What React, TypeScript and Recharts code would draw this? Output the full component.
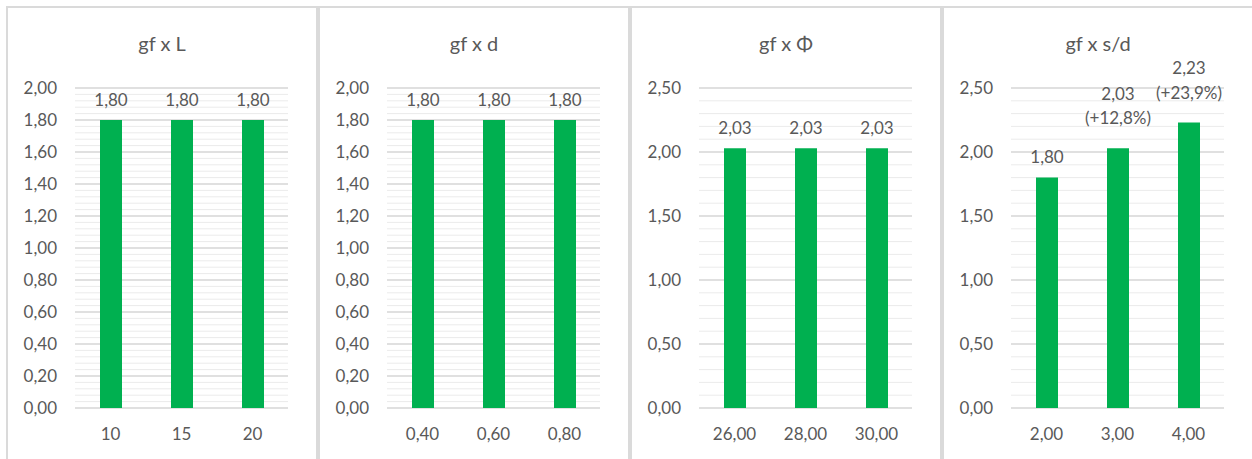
import React from "react";
import { BarChart, Bar, XAxis, YAxis, CartesianGrid, LabelList } from "recharts";

// values (comma decimals, Excel style)
const LENGTHS = ["10", "15", "20"];
const GF_BY_LENGTH = [1.8, 1.8, 1.8];

const DIAMETERS = ["0,40", "0,60", "0,80"];
const GF_BY_DIAMETER = [1.8, 1.8, 1.8];

const PHI_VALUES = ["26,00", "28,00", "30,00"];
const GF_BY_PHI = [2.03, 2.03, 2.03];

const SPACINGS = ["2,00", "3,00", "4,00"];
const GF_BY_SPACING = [1.8, 2.03, 2.23];
const SPACING_GAIN = ["", "(+12,8%)", "(+23,9%)"];

const TICKS_TO_2 = [0, 0.2, 0.4, 0.6, 0.8, 1.0, 1.2, 1.4, 1.6, 1.8, 2.0];
const TICKS_TO_25 = [0, 0.5, 1.0, 1.5, 2.0, 2.5];

const GREEN = "#00B050";
const TEXT = "#595959";
const FONT = "Lato, 'Open Sans', sans-serif";

const fmt = (v: number) => v.toFixed(2).replace(".", ",");

// minor gridlines: 5 subdivisions between major ticks
const minorTicks = (major: number[]) => {
    const out: number[] = [];
    for (let i = 0; i < major.length - 1; i++) {
        const step = (major[i + 1] - major[i]) / 5;
        for (let j = 1; j < 5; j++) out.push(Math.round((major[i] + j * step) * 1000) / 1000);
    }
    return out;
};

const BarLabel = (props: any) => {
    const { x, y, width, value } = props;
    const lines = String(value).split("\n");
    const cx = Number(x) + Number(width) / 2;
    const base = lines.length > 1 ? 30.5 : 21;
    return (
        <g>
            {lines.map((line, i) => (
                <text
                    key={i}
                    x={cx}
                    y={Number(y) - base - (lines.length - 1 - i) * 24.5}
                    textAnchor="middle"
                    dominantBaseline="central"
                    fill={TEXT}
                    fontSize={17}
                    fontFamily={FONT}
                >
                    {line}
                </text>
            ))}
        </g>
    );
};

type PanelProps = {
    title: string;
    left: number;
    categories: string[];
    values: number[];
    ticks: number[];
    extra?: string[];
};

const Panel: React.FC<PanelProps> = ({ title, left, categories, values, ticks, extra }) => {
    const data = categories.map((c, i) => ({
        cat: c,
        value: values[i],
        label: fmt(values[i]) + (extra && extra[i] ? "\n" + extra[i] : ""),
    }));
    const max = ticks[ticks.length - 1];
    const tickStyle = { fill: TEXT, fontSize: 17, fontFamily: FONT };

    return (
        <div
            style={{
                position: "absolute",
                left,
                top: 6,
                width: 312,
                height: 470,
                border: "2px solid #dadada",
                boxSizing: "border-box",
                background: "#fff",
            }}
        >
            <div
                style={{
                    position: "absolute",
                    top: 23,
                    left: 0,
                    width: "100%",
                    textAlign: "center",
                    fontSize: 20,
                    lineHeight: "24px",
                    color: TEXT,
                    fontFamily: FONT,
                }}
            >
                {title}
            </div>
            <div style={{ position: "absolute", top: 0, left: 0 }}>
                <BarChart width={308} height={456} data={data} margin={{ top: 80, right: 28, left: 0, bottom: 0 }}>
                    <CartesianGrid vertical={false} horizontalValues={minorTicks(ticks)} stroke="#ebebeb" />
                    <CartesianGrid vertical={false} horizontalValues={ticks} stroke="#d6d6d6" strokeWidth={1.5} />
                    <XAxis
                        dataKey="cat"
                        height={56}
                        axisLine={false}
                        tickLine={false}
                        tickSize={0}
                        tickMargin={20}
                        tick={tickStyle}
                        interval={0}
                    />
                    <YAxis
                        width={67}
                        domain={[0, max]}
                        ticks={ticks}
                        interval={0}
                        axisLine={false}
                        tickLine={false}
                        tickSize={0}
                        tickMargin={18}
                        tick={tickStyle}
                        tickFormatter={fmt}
                    />
                    <Bar dataKey="value" fill={GREEN} barSize={22} isAnimationActive={false}>
                        <LabelList dataKey="label" content={BarLabel} />
                    </Bar>
                </BarChart>
            </div>
        </div>
    );
};

export default function App() {
    return (
        <div
            style={{
                position: "absolute",
                left: 0,
                top: 0,
                width: 1252,
                height: 459,
                background: "#fff",
                overflow: "hidden",
                fontFamily: FONT,
            }}
        >
            <Panel title="gf x L" left={6} categories={LENGTHS} values={GF_BY_LENGTH} ticks={TICKS_TO_2} />
            <Panel title="gf x d" left={318} categories={DIAMETERS} values={GF_BY_DIAMETER} ticks={TICKS_TO_2} />
            <Panel title="gf x Φ" left={630} categories={PHI_VALUES} values={GF_BY_PHI} ticks={TICKS_TO_25} />
            <Panel
                title="gf x s/d"
                left={942}
                categories={SPACINGS}
                values={GF_BY_SPACING}
                ticks={TICKS_TO_25}
                extra={SPACING_GAIN}
            />
        </div>
    );
}
